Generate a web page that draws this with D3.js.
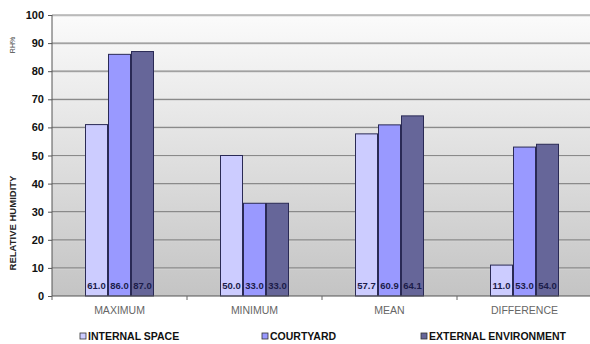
<!DOCTYPE html>
<html><head><meta charset="utf-8">
<script src="https://cdn.jsdelivr.net/npm/d3@7"></script>
<style>body{margin:0;background:#fff}svg{display:block}</style>
</head><body><svg id="c" width="590" height="344"></svg>
<script>
const categories = ["MAXIMUM", "MINIMUM", "MEAN", "DIFFERENCE"];
const seriesNames = ["INTERNAL SPACE", "COURTYARD", "EXTERNAL ENVIRONMENT"];
const internalSpace = [61.0, 50.0, 57.7, 11.0];
const courtyard = [86.0, 33.0, 60.9, 53.0];
const externalEnv = [87.0, 33.0, 64.1, 54.0];
const yTicks = [0, 10, 20, 30, 40, 50, 60, 70, 80, 90, 100];
const colors = ["#ccccff", "#9999ff", "#666699"];
const seriesValues = [internalSpace, courtyard, externalEnv];

const svg = d3.select("#c");
const m = {l: 52, t: 15, r: -2, b: 48};
const W = 590, H = 344;
const x0 = d3.scaleBand().domain(categories).range([m.l, W - m.r]).paddingInner(0).paddingOuter(0);
const y = d3.scaleLinear().domain([0, 100]).range([296, 15]);
const gw = 69;
const x1 = d3.scaleBand().domain(seriesNames).range([0, gw]);

const defs = svg.append("defs");
const lg = defs.append("linearGradient").attr("id", "bg").attr("x1", 0).attr("y1", 0).attr("x2", 0).attr("y2", 1);
lg.append("stop").attr("offset", "0%").attr("stop-color", "#fbfbfb");
lg.append("stop").attr("offset", "100%").attr("stop-color", "#c4c4c4");

svg.append("rect").attr("x", m.l).attr("y", y(100)).attr("width", W - m.l).attr("height", y(0) - y(100)).attr("fill", "url(#bg)");

// gridlines
const gl = svg.append("g");
yTicks.filter(d => d > 0).forEach(d => {
  gl.append("line").attr("x1", m.l).attr("x2", W).attr("y1", y(d) + 1).attr("y2", y(d) + 1).attr("stroke", "#d8d8d8").attr("stroke-width", 1);
  gl.append("line").attr("x1", m.l).attr("x2", W).attr("y1", y(d)).attr("y2", y(d)).attr("stroke", "#8a8a8a").attr("stroke-width", 1.2);
});

// bars
const groups = svg.append("g").selectAll("g").data(categories).join("g")
  .attr("transform", c => `translate(${x0(c) + (x0.bandwidth() - gw) / 2},0)`);
seriesNames.forEach((s, si) => {
  groups.append("rect")
    .attr("x", x1(s) + 0.5)
    .attr("y", (c, ci) => y(seriesValues[si][ci]))
    .attr("width", x1.bandwidth() - 1)
    .attr("height", (c, ci) => y(0) - y(seriesValues[si][ci]))
    .attr("fill", colors[si])
    .attr("stroke", "#2a2a55").attr("stroke-width", 1);
  groups.append("text")
    .attr("x", x1(s) + x1.bandwidth() / 2)
    .attr("y", 289)
    .attr("text-anchor", "middle")
    .attr("font-family", "Liberation Sans, Arial, sans-serif")
    .attr("font-weight", "bold").attr("font-size", 9.5)
    .attr("fill", "#1c1c4a")
    .text((c, ci) => seriesValues[si][ci].toFixed(1));
});

// y axis
const ya = svg.append("g").attr("transform", `translate(${m.l},0)`)
  .call(d3.axisLeft(y).tickValues(yTicks).tickSize(4).tickPadding(4));
ya.select(".domain").attr("stroke", "#555").attr("d", `M0,${y(100)}V${y(0)}`);
ya.selectAll(".tick line").attr("stroke", "#555");
ya.selectAll("text").attr("font-family", "Liberation Sans, Arial, sans-serif").attr("font-weight", "bold").attr("font-size", 11).attr("fill", "#111");

// x axis
const xa = svg.append("g").attr("transform", `translate(0,${y(0)})`)
  .call(d3.axisBottom(x0).tickSize(0).tickPadding(11));
xa.select(".domain").attr("stroke", "#555").attr("d", `M${m.l},0H${W}`);
xa.selectAll("text").attr("font-family", "Liberation Sans, Arial, sans-serif").attr("font-size", 10.5).attr("fill", "#666");
// category separators ticks
const sepG = svg.append("g");
categories.slice(1).forEach(c => {
  sepG.append("line").attr("x1", x0(c)).attr("x2", x0(c)).attr("y1", y(0)).attr("y2", y(0) + 4).attr("stroke", "#666");
});
sepG.append("line").attr("x1", m.l).attr("x2", m.l).attr("y1", y(0)).attr("y2", y(0) + 4).attr("stroke", "#666");

// axis titles
svg.append("text").attr("transform", "translate(16,223) rotate(-90)").attr("text-anchor", "middle")
  .attr("font-family", "Liberation Sans, Arial, sans-serif").attr("font-weight", "bold").attr("font-size", 9.5).attr("fill", "#222")
  .text("RELATIVE HUMIDITY");
svg.append("text").attr("transform", "translate(15,45) rotate(-90)").attr("text-anchor", "middle")
  .attr("font-family", "Liberation Sans, Arial, sans-serif").attr("font-size", 7).attr("fill", "#444")
  .text("RH%");

// legend
const legX = [80, 262, 421];
const leg = svg.append("g");
seriesNames.forEach((s, i) => {
  leg.append("rect").attr("x", legX[i]).attr("y", 333).attr("width", 6).attr("height", 6)
    .attr("fill", colors[i]).attr("stroke", "#333").attr("stroke-width", 0.8);
  leg.append("text").attr("x", legX[i] + 8).attr("y", 340)
    .attr("font-family", "Liberation Sans, Arial, sans-serif").attr("font-weight", "bold").attr("font-size", 10.5).attr("fill", "#111")
    .text(s);
});
</script></body></html>
